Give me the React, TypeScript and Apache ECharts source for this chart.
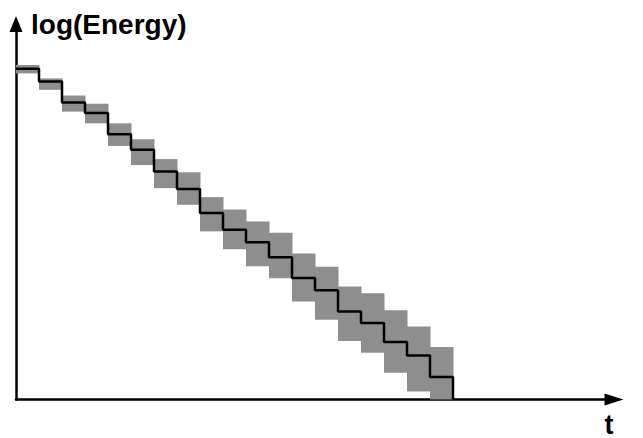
import React, { useEffect, useRef } from "react";
import * as echarts from "echarts";

// step index (each step spans [i, i+1])
const stepStarts = [0, 1, 2, 3, 4, 5, 6, 7, 8, 9, 10, 11, 12, 13, 14, 15, 16, 17, 18];
// log(Energy) level of each step
const levels = [13.32, 12.8, 11.96, 11.54, 10.68, 10.06, 9.18, 8.48, 7.51, 6.84, 6.33, 5.73, 4.89, 4.4, 3.54, 3.08, 2.32, 1.77, 0.91];
// uncertainty band for each step
const bandUpper = [13.47, 12.93, 12.24, 11.91, 11.12, 10.48, 9.68, 9.15, 8.15, 7.65, 7.17, 6.71, 5.88, 5.35, 4.55, 4.28, 3.59, 2.94, 2.11];
const bandLower = [13.13, 12.47, 11.59, 11.12, 10.21, 9.44, 8.51, 7.84, 6.77, 6.05, 5.37, 4.88, 3.95, 3.21, 2.36, 1.88, 1.08, 0.32, 0];
const endTime = 19;
const endLevel = 0;

export default function App() {
  const ref = useRef<HTMLDivElement>(null);
  useEffect(() => {
    if (!ref.current) return;
    const chart = echarts.init(ref.current, null, { renderer: "svg" });
    const lineData = stepStarts.map((t, i) => [t, levels[i]]);
    lineData.push([endTime, endLevel]);
    const boxData = stepStarts.map((t, i) => [t, bandLower[i], bandUpper[i]]);
    chart.setOption({
      animation: false,
      grid: { left: 16, right: 29, top: 24, bottom: 36 },
      xAxis: {
        type: "value",
        min: 0,
        max: 26,
        name: "t",
        nameLocation: "end",
        nameGap: -5,
        nameTextStyle: {
          fontFamily: "Liberation Sans",
          fontWeight: "bold",
          fontSize: 27,
          lineHeight: 20,
          color: "#000",
          align: "center",
          verticalAlign: "top",
          padding: [15, 0, 0, 0],
        },
        axisLine: {
          show: true,
          symbol: ["none", "triangle"],
          symbolSize: [12, 19],
          lineStyle: { color: "#000", width: 2.5 },
        },
        axisTick: { show: false },
        axisLabel: { show: false },
        splitLine: { show: false },
      },
      yAxis: {
        type: "value",
        min: 0,
        max: 15.12,
        name: "log(Energy)",
        nameLocation: "end",
        nameGap: 0,
        nameTextStyle: {
          fontFamily: "Liberation Sans",
          fontWeight: "bold",
          fontSize: 28,
          color: "#000",
          align: "left",
          verticalAlign: "middle",
          padding: [6, 0, 0, 15],
        },
        axisLine: {
          show: true,
          symbol: ["none", "triangle"],
          symbolSize: [13, 16],
          lineStyle: { color: "#000", width: 2.5 },
        },
        axisTick: { show: false },
        axisLabel: { show: false },
        splitLine: { show: false },
      },
      series: [
        {
          type: "custom",
          z: 1,
          data: boxData,
          renderItem: (params: any, api: any) => {
            const x0 = api.value(0);
            const p1 = api.coord([x0, api.value(2)]);
            const p2 = api.coord([x0 + 1, api.value(1)]);
            return {
              type: "rect",
              shape: { x: p1[0], y: p1[1], width: p2[0] - p1[0] + 0.5, height: p2[1] - p1[1] },
              style: { fill: "#8e8e8e" },
            };
          },
        },
        {
          type: "line",
          z: 3,
          step: "end",
          data: lineData,
          showSymbol: false,
          lineStyle: { color: "#000", width: 2.5 },
        },
      ],
    });
    return () => chart.dispose();
  }, []);
  return (
    <div
      ref={ref}
      style={{ position: "absolute", left: 0, top: 0, width: 643, height: 438 }}
    />
  );
}
